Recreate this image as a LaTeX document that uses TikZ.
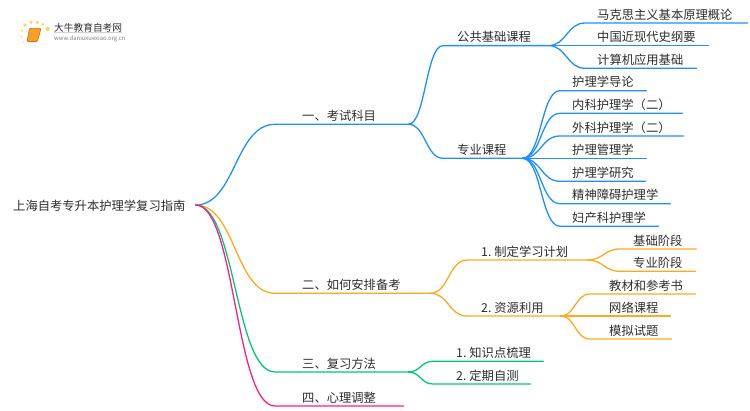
\documentclass[tikz,border=0pt]{standalone}
\usepackage{fontspec}
\setmainfont{Noto Sans CJK SC}
\usepackage{xcolor}
\usetikzlibrary{scopes}

\definecolor{linkblue}{RGB}{30,144,255}
\definecolor{linkorange}{RGB}{255,170,30}
\definecolor{linkgreen}{RGB}{0,200,120}
\definecolor{linkpink}{RGB}{255,30,130}
\definecolor{txtgray}{RGB}{45,45,45}
\definecolor{bookorange}{RGB}{245,160,40}
\definecolor{dotyellow}{RGB}{253,212,120}

\tikzset{
	link/.style={line width=1.3pt,line cap=round},
	item/.style 2 args={anchor=south west,inner xsep=0pt,inner ysep=3.6pt,
		text width=#1 pt,align=left,text depth=0pt,text=txtgray,
		font=\fontsize{12.3}{14}\selectfont,
		execute at begin node={\hspace*{#2 pt}}}
}

\begin{document}
\begin{tikzpicture}[x=1pt,y=-1pt]

\useasboundingbox (0,0) rectangle (750,410);

%logo
\fill [dotyellow] (25,25) circle (1.8) (31,22.3) circle (1.8) (37.3,22.3) circle (1.8)
	(42.7,24.3) circle (1.6) (47.7,29) circle (2.2) (22,30.7) circle (1.2)
	(21.3,36.7) circle (1) (23.3,42.3) circle (0.8);
\filldraw [fill=bookorange,draw=orange!85!black,line width=0.6pt,rounded corners=1pt]
	(29.5,28.3) -- (41,28.3) -- (37.5,41.5) -- (27,41.5) -- cycle;
\node [inner sep=0pt,anchor=west,text=txtgray,font=\fontsize{9.7}{11}\selectfont] (logotitle) at (54,27.5) {大牛教育自考网};
\node [inner sep=0pt,anchor=west,text=gray,font=\fontsize{5.9}{7}\selectfont] (logourl) at (54,38.5) {www.daniuxuexiao.org.cn};
\draw [gray!35,line width=0.5pt] (logotitle.south west) -- (logotitle.south east);

%nodes
\node [anchor=west,inner xsep=10pt,inner ysep=0pt,text height=12pt,text depth=1.5pt,text=txtgray,font=\fontsize{12.3}{14}\selectfont] (root) at (3,205) {上海自考专升本护理学复习指南};

\node [item={133}{27}] (exam) at (275,124.3) {一、考试科目};
\node [item={105}{14}] (public) at (443,45.6) {公共基础课程};
\node [item={162}{12}] (marx) at (585,23) {马克思主义基本原理概论};
\node [item={123}{12}] (history) at (585,45.6) {中国近现代史纲要};
\node [item={111}{12}] (computer) at (585,68.3) {计算机应用基础};
\node [item={79}{14}] (major) at (443,158.3) {专业课程};
\node [item={86}{12}] (intro) at (560,90.7) {护理学导论};
\node [item={122}{12}] (internal) at (560,113.3) {内科护理学（二）};
\node [item={123}{12}] (surgery) at (560,136) {外科护理学（二）};
\node [item={86}{12}] (manage) at (560,158.3) {护理管理学};
\node [item={85}{12}] (research) at (560,181.3) {护理学研究};
\node [item={110}{12}] (mental) at (560,203.7) {精神障碍护理学};
\node [item={98}{12}] (women) at (560,226.3) {妇产科护理学};

\node [item={155}{27}] (prepare) at (275,293.3) {二、如何安排备考};
\node [item={120}{14}] (plan) at (467,260) {1.\hspace{3pt}制定学习计划};
\node [item={76}{13}] (basic) at (620,249) {基础阶段};
\node [item={75}{13}] (special) at (620,271.3) {专业阶段};
\node [item={93}{14}] (resource) at (467,316) {2.\hspace{3pt}资源利用};
\node [item={105}{19}] (books) at (590,294) {教材和参考书};
\node [item={80}{19}] (online) at (590,316) {网络课程};
\node [item={81}{19}] (mock) at (590,339) {模拟试题};

\node [item={133}{27}] (review) at (275,372) {三、复习方法};
\node [item={110}{23}] (points) at (433,361.3) {1.\hspace{3pt}知识点梳理};
\node [item={97}{23}] (selftest) at (433,384) {2.\hspace{3pt}定期自测};

\node [item={128}{27}] (mind) at (275,406) {四、心理调整};

{[draw=linkblue,link]
	% from root
	\draw (root.east) .. controls +(40,0) and +(-40,0) .. (exam.south west) -- (exam.south east);
	% from exam
	\draw (exam.south east) .. controls +(17,0) and +(-17,0) .. (public.south west) -- (public.south east);
	\draw (exam.south east) .. controls +(17,0) and +(-17,0) .. (major.south west) -- (major.south east);
	% from public
	\draw (public.south east) .. controls +(18,0) and +(-18,0) .. (marx.south west) -- (marx.south east);
	\draw (public.south east) .. controls +(18,0) and +(-18,0) .. (history.south west) -- (history.south east);
	\draw (public.south east) .. controls +(18,0) and +(-18,0) .. (computer.south west) -- (computer.south east);
	% from major
	\draw (major.south east) .. controls +(19,0) and +(-19,0) .. (intro.south west) -- (intro.south east);
	\draw (major.south east) .. controls +(19,0) and +(-19,0) .. (internal.south west) -- (internal.south east);
	\draw (major.south east) .. controls +(19,0) and +(-19,0) .. (surgery.south west) -- (surgery.south east);
	\draw (major.south east) .. controls +(19,0) and +(-19,0) .. (manage.south west) -- (manage.south east);
	\draw (major.south east) .. controls +(19,0) and +(-19,0) .. (research.south west) -- (research.south east);
	\draw (major.south east) .. controls +(19,0) and +(-19,0) .. (mental.south west) -- (mental.south east);
	\draw (major.south east) .. controls +(19,0) and +(-19,0) .. (women.south west) -- (women.south east);
}

{[draw=linkorange,link]
	% from root
	\draw (root.east) .. controls +(40,0) and +(-40,0) .. (prepare.south west) -- (prepare.south east);
	% from prepare
	\draw (prepare.south east) .. controls +(18,0) and +(-18,0) .. (plan.south west) -- (plan.south east);
	\draw (prepare.south east) .. controls +(18,0) and +(-18,0) .. (resource.south west) -- (resource.south east);
	% from plan
	\draw (plan.south east) .. controls +(16,0) and +(-16,0) .. (basic.south west) -- (basic.south east);
	\draw (plan.south east) .. controls +(16,0) and +(-16,0) .. (special.south west) -- (special.south east);
	% from resource
	\draw (resource.south east) .. controls +(15,0) and +(-15,0) .. (books.south west) -- (books.south east);
	\draw (resource.south east) .. controls +(15,0) and +(-15,0) .. (online.south west) -- (online.south east);
	\draw (resource.south east) .. controls +(15,0) and +(-15,0) .. (mock.south west) -- (mock.south east);
}

{[draw=linkgreen,link]
	% from root
	\draw (root.east) .. controls +(40,0) and +(-40,0) .. (review.south west) -- (review.south east);
	% from review
	\draw (review.south east) .. controls +(12,0) and +(-12,0) .. (points.south west) -- (points.south east);
	\draw (review.south east) .. controls +(12,0) and +(-12,0) .. (selftest.south west) -- (selftest.south east);
}

{[draw=linkpink,link]
	\draw (root.east) .. controls +(40,0) and +(-40,0) .. (mind.south west) -- (mind.south east);
}

\end{tikzpicture}
\end{document}
